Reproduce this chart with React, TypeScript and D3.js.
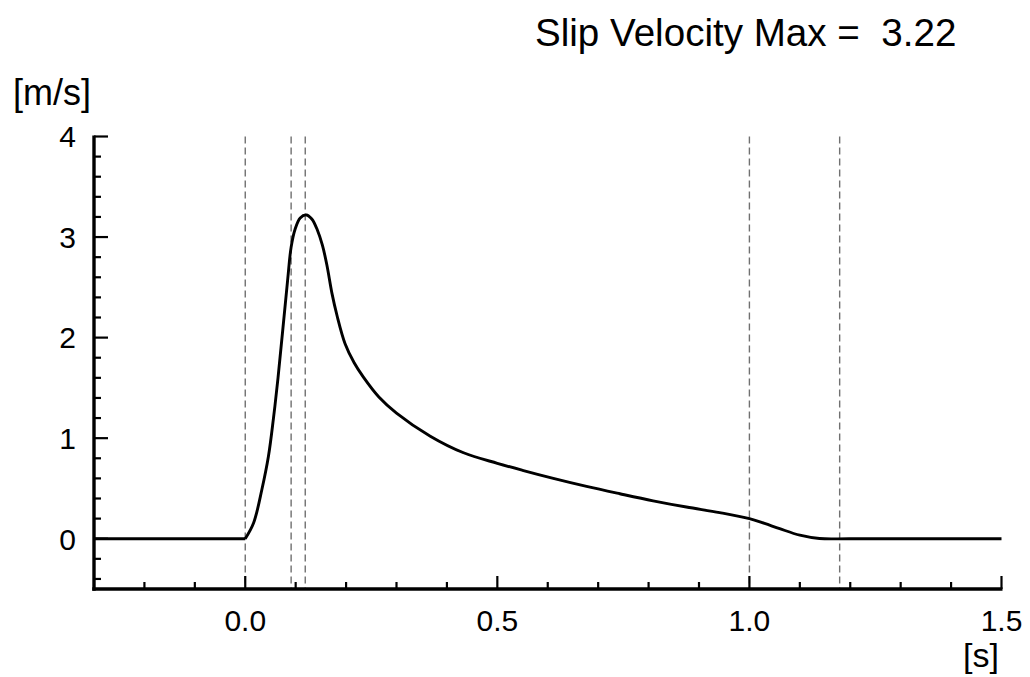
import React from "react";
import * as d3 from "d3";

const timeValues = [-0.3, -0.1, -0.02, 0, 0.0165, 0.033, 0.046, 0.056, 0.065, 0.084, 0.091, 0.099, 0.109, 0.121, 0.132, 0.143, 0.153, 0.162, 0.172, 0.182, 0.198, 0.216, 0.234, 0.265, 0.3, 0.367, 0.433, 0.5, 0.55, 0.611, 0.677, 0.743, 0.809, 0.875, 0.941, 1.0, 1.03, 1.06, 1.1, 1.139, 1.2, 1.5];
const slipVelocity = [0, 0, 0, 0, 0.156, 0.49, 0.82, 1.2, 1.6, 2.57, 2.9, 3.08, 3.19, 3.22, 3.18, 3.07, 2.92, 2.72, 2.44, 2.22, 1.94, 1.75, 1.61, 1.41, 1.25, 1.02, 0.855, 0.75, 0.68, 0.6, 0.52, 0.447, 0.377, 0.315, 0.26, 0.2, 0.152, 0.1, 0.035, 0.002, 0, 0];
const markerTimes = [0.0, 0.091, 0.119, 1.0, 1.179];
const xMajorTicks = [0.0, 0.5, 1.0, 1.5];
const xMinorTicks = [-0.2, -0.1, 0.1, 0.2, 0.3, 0.4, 0.6, 0.7, 0.8, 0.9, 1.1, 1.2, 1.3, 1.4];
const yMajorTicks = [0, 1, 2, 3, 4];
const yMinorTicks = [-0.4, -0.2, 0.2, 0.4, 0.6, 0.8, 1.2, 1.4, 1.6, 1.8, 2.2, 2.4, 2.6, 2.8, 3.2, 3.4, 3.6, 3.8];
const titleText = "Slip Velocity Max =  3.22";
const yUnit = "[m/s]";
const xUnit = "[s]";

const W = 1030;
const H = 677;
const FONT = "'Liberation Sans', Arial, Helvetica, sans-serif";

export default function App() {
  const x = d3.scaleLinear().domain([-0.3, 1.5]).range([94, 1001.5]);
  const y = d3.scaleLinear().domain([-0.5, 4]).range([589, 136.5]);
  const points: [number, number][] = timeValues.map((t, i) => [t, slipVelocity[i]]);
  const before = points.filter((p) => p[0] <= 0);
  const after = points.filter((p) => p[0] >= 0);
  const flatLine = d3
    .line<[number, number]>()
    .x((d) => x(d[0]))
    .y((d) => y(d[1]));
  const line = d3
    .line<[number, number]>()
    .x((d) => x(d[0]))
    .y((d) => y(d[1]))
    .curve(d3.curveCatmullRom.alpha(0.5));

  return (
    <svg
      width={W}
      height={H}
      style={{ position: "absolute", left: 0, top: 0, background: "#fff" }}
      fontFamily={FONT}
    >
      <rect x={0} y={0} width={W} height={H} fill="#fff" />
      {markerTimes.map((t, i) => (
        <line
          key={"m" + i}
          x1={x(t)}
          x2={x(t)}
          y1={y(4)}
          y2={y(-0.5)}
          stroke="#707070"
          strokeWidth={1.4}
          strokeDasharray="7,4"
        />
      ))}
      <path d={flatLine(before) || ""} fill="none" stroke="#000" strokeWidth={2.9} />
      <path d={line(after) || ""} fill="none" stroke="#000" strokeWidth={2.9} strokeLinejoin="round" />
      <line x1={x(-0.3)} x2={x(-0.3)} y1={y(4) - 1} y2={y(-0.5) + 1.7} stroke="#000" strokeWidth={3.4} />
      <line x1={x(-0.3) - 1.7} x2={x(1.5) + 1} y1={y(-0.5)} y2={y(-0.5)} stroke="#000" strokeWidth={3.4} />
      {yMajorTicks.map((v) => (
        <g key={"ym" + v}>
          <line x1={x(-0.3)} x2={x(-0.3) + 14} y1={y(v)} y2={y(v)} stroke="#000" strokeWidth={2.2} />
          <text x={76} y={y(v)} dy="0.36em" textAnchor="end" fontSize={30}>
            {v}
          </text>
        </g>
      ))}
      {yMinorTicks.map((v) => (
        <line key={"yn" + v} x1={x(-0.3)} x2={x(-0.3) + 7} y1={y(v)} y2={y(v)} stroke="#000" strokeWidth={2.2} />
      ))}
      {xMajorTicks.map((v) => (
        <g key={"xm" + v}>
          <line x1={x(v)} x2={x(v)} y1={y(-0.5)} y2={y(-0.5) - 13} stroke="#000" strokeWidth={2.2} />
          <text x={x(v)} y={631} textAnchor="middle" fontSize={30}>
            {v.toFixed(1)}
          </text>
        </g>
      ))}
      {xMinorTicks.map((v) => (
        <line key={"xn" + v} x1={x(v)} x2={x(v)} y1={y(-0.5)} y2={y(-0.5) - 7} stroke="#000" strokeWidth={2.2} />
      ))}
      <text x={535} y={46} fontSize={38.6} style={{ whiteSpace: "pre" }} xmlSpace="preserve">
        {titleText}
      </text>
      <text x={13} y={105} fontSize={36}>
        {yUnit}
      </text>
      <text x={999} y={667} textAnchor="end" fontSize={34}>
        {xUnit}
      </text>
    </svg>
  );
}
